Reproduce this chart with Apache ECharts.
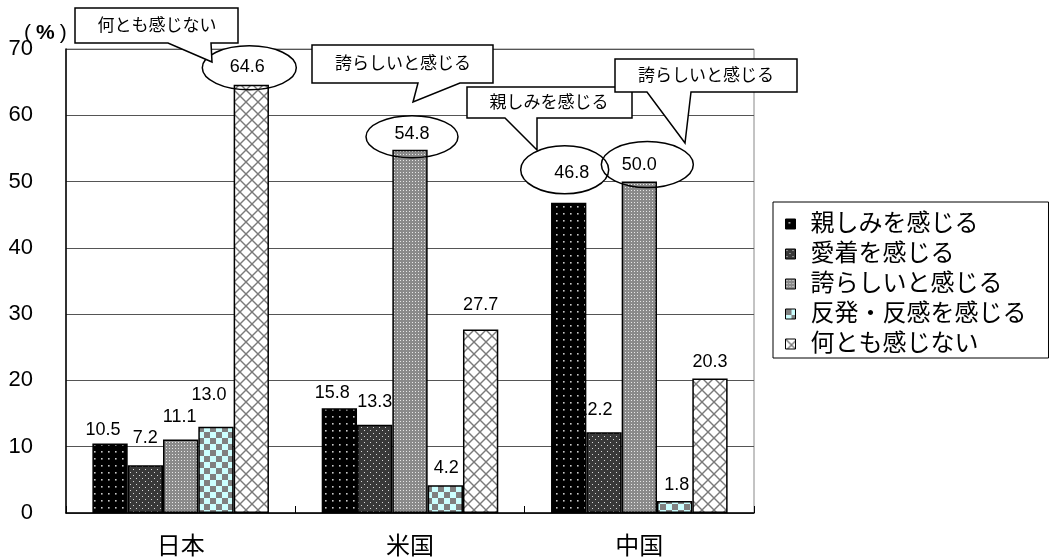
<!DOCTYPE html>
<html>
<head>
<meta charset="utf-8">
<script src="https://cdn.jsdelivr.net/npm/echarts@6/dist/echarts.min.js"></script>
<style>
  html, body { margin: 0; padding: 0; background: #fff; }
  #chart { width: 1049px; height: 559px; }
</style>
</head>
<body>
<div id="chart"></div>
<script>
// Countries on the x axis
const categories = ['日本', '米国', '中国'];
// Response categories (one series each)
const seriesNames = ['親しみを感じる', '愛着を感じる', '誇らしいと感じる', '反発・反感を感じる', '何とも感じない'];
// Percentages per country, in category order
const shitashimi = [10.5, 15.8, 46.8];
const aichaku = [7.2, 13.3, 12.2];
const hokori = [11.1, 54.8, 50.0];
const hanpatsu = [13.0, 4.2, 1.8];
const nantomo = [64.6, 27.7, 20.3];
const seriesValues = [shitashimi, aichaku, hokori, hanpatsu, nantomo];
// Value axis range
const yMin = 0, yMax = 70, yStep = 10;

const FONT = "'Liberation Sans', 'Noto Sans CJK JP', sans-serif";

// ---- fill patterns for the bars ----
function tile(w, h, draw) {
  const c = document.createElement('canvas');
  c.width = w; c.height = h;
  draw(c.getContext('2d'));
  return { image: c, repeat: 'repeat' };
}
const patterns = [
  // black with sparse white dots
  tile(7, 7, g => {
    g.fillStyle = '#000'; g.fillRect(0, 0, 7, 7);
    g.fillStyle = '#c8c8c8'; g.fillRect(3, 3, 1.6, 1.6);
  }),
  // dark grey with staggered white dots
  tile(6, 6, g => {
    g.fillStyle = '#383838'; g.fillRect(0, 0, 6, 6);
    g.fillStyle = '#d8d8d8'; g.fillRect(1, 1, 1, 1); g.fillRect(4, 4, 1, 1);
  }),
  // mid grey with fine white dots
  tile(3, 3, g => {
    g.fillStyle = '#8a8a8a'; g.fillRect(0, 0, 3, 3);
    g.fillStyle = '#e6e6e6'; g.fillRect(1, 1, 1, 1);
  }),
  // cyan / grey checkerboard
  tile(12, 12, g => {
    g.fillStyle = '#ccffff'; g.fillRect(0, 0, 12, 12);
    g.fillStyle = '#808080'; g.fillRect(0, 0, 6, 6); g.fillRect(6, 6, 6, 6);
  }),
  // diagonal cross hatch on white
  tile(12, 12, g => {
    g.fillStyle = '#fff'; g.fillRect(0, 0, 12, 12);
    g.strokeStyle = '#7a7a7a'; g.lineWidth = 1.4;
    for (const dx of [-12, 0, 12]) {
      g.beginPath(); g.moveTo(dx, 0); g.lineTo(dx + 12, 12); g.stroke();
      g.beginPath(); g.moveTo(dx + 12, 0); g.lineTo(dx, 12); g.stroke();
    }
  })
];

// Per-point nudges of the value labels [dx, dy]
const labelNudges = [
  [[-7, 0], [-7, -2], [3, -16]],
  [[0, -14], [0, -9], [-9, -9]],
  [[-1, -9], [2, -2], [0, -3]],
  [[-7, -18], [1, -4], [2, -3]],
  [[-4, -4], [0, -11], [0, -3]]
];

const series = seriesNames.map((name, s) => ({
  name: name,
  type: 'bar',
  barGap: '0%',
  barCategoryGap: '23%',
  z: 2,
  itemStyle: { color: patterns[s], borderColor: '#000', borderWidth: 1.5 },
  data: seriesValues[s].map((v, i) => ({
    value: v,
    label: { offset: labelNudges[s][i] }
  })),
  label: {
    show: true,
    position: 'top',
    distance: 5,
    fontFamily: FONT,
    fontSize: 18,
    lineHeight: 17,
    color: '#000',
    formatter: p => p.value.toFixed(1)
  }
}));

const chart = echarts.init(document.getElementById('chart'));
chart.setOption({
  animation: false,
  backgroundColor: '#fff',
  grid: { left: 66, right: 295, top: 49, bottom: 46, show: true, borderColor: '#888', borderWidth: 1 },
  legend: {
    orient: 'vertical',
    left: 773, top: 202,
    padding: [10, 22, 2, 12],
    itemWidth: 10, itemHeight: 10, itemGap: 6,
    borderColor: '#000', borderWidth: 1,
    selectedMode: false,
    icon: 'rect',
    itemStyle: { borderColor: '#000', borderWidth: 1 },
    textStyle: { fontFamily: FONT, fontSize: 24, lineHeight: 24, color: '#000', padding: [0, 0, 0, 10] },
    data: seriesNames
  },
  xAxis: {
    type: 'category',
    data: categories,
    axisLine: { lineStyle: { color: '#000', width: 1.5 } },
    axisTick: { show: true, inside: true, length: 7, lineStyle: { color: '#000' } },
    axisLabel: { fontFamily: FONT, fontSize: 24, color: '#000', margin: 22 }
  },
  yAxis: {
    type: 'value',
    min: yMin, max: yMax, interval: yStep,
    axisLine: { show: true, lineStyle: { color: '#000', width: 1.5 } },
    axisTick: { show: false },
    splitLine: { lineStyle: { color: '#555', width: 1 } },
    axisLabel: { fontFamily: FONT, fontSize: 22, color: '#000', margin: 33 }
  },
  series: series
});

// ---- circled values and speech-bubble notes ----
const circled = [
  { s: 4, i: 0, rx: 47, ry: 22, ox: -2, oy: -17 },
  { s: 2, i: 1, rx: 46, ry: 21, ox: 2, oy: -13 },
  { s: 0, i: 2, rx: 44, ry: 24, ox: -4, oy: -33 },
  { s: 2, i: 2, rx: 46, ry: 23, ox: 8, oy: -17 }
];

function barTop(s, i) {
  const lay = chart.getModel().getSeriesByIndex(s).getData().getItemLayout(i);
  return { x: lay.x + lay.width / 2, y: Math.min(lay.y, lay.y + lay.height) };
}

const graphics = [];
circled.forEach((c, k) => {
  const t = barTop(c.s, c.i);
  const shape = { cx: t.x + c.ox, cy: t.y + c.oy, rx: c.rx, ry: c.ry };
  graphics.push({ type: 'ellipse', id: 'fill' + k, z: 1, shape: shape, style: { fill: '#fff', stroke: null } });
  graphics.push({ type: 'ellipse', id: 'ring' + k, z: 50, shape: shape, style: { fill: null, stroke: '#000', lineWidth: 1.5 } });
});

const notes = [
  { text: '何とも感じない', pts: [[75, 8], [238, 8], [238, 43], [211, 43], [212, 62], [168, 43], [75, 43]], tx: 157, ty: 26 },
  { text: '誇らしいと感じる', pts: [[312, 45], [493, 45], [493, 83], [460, 83], [413, 102], [418, 83], [312, 83]], tx: 403, ty: 64 },
  { text: '親しみを感じる', pts: [[467, 87], [632, 87], [632, 118], [537, 118], [537, 150], [505, 118], [467, 118]], tx: 549, ty: 103 },
  { text: '誇らしいと感じる', pts: [[615, 59], [797, 59], [797, 92], [691, 92], [685, 143], [647, 92], [615, 92]], tx: 706, ty: 76 }
];
notes.forEach((n, k) => {
  graphics.push({ type: 'polygon', id: 'note' + k, z: 60 + k * 2, shape: { points: n.pts },
    style: { fill: '#fff', stroke: '#000', lineWidth: 1.5 } });
  graphics.push({ type: 'text', id: 'noteText' + k, z: 61 + k * 2, x: n.tx, y: n.ty,
    style: { text: n.text, fontFamily: FONT, fontSize: 17, fill: '#000', align: 'center', verticalAlign: 'middle' } });
});

// unit caption above the value axis
graphics.push({ type: 'text', id: 'unit', z: 70, x: 22, y: 33,
  style: {
    text: '{p|(}{q|%}{p|)}',
    align: 'left', verticalAlign: 'middle',
    rich: {
      p: { fontFamily: FONT, fontSize: 21, fill: '#000', padding: [0, 2, 0, 2] },
      q: { fontFamily: FONT, fontSize: 21, fontWeight: 'bold', fill: '#000', padding: [0, 3, 0, 3] }
    }
  } });

chart.setOption({ graphic: graphics });
</script>
</body>
</html>
